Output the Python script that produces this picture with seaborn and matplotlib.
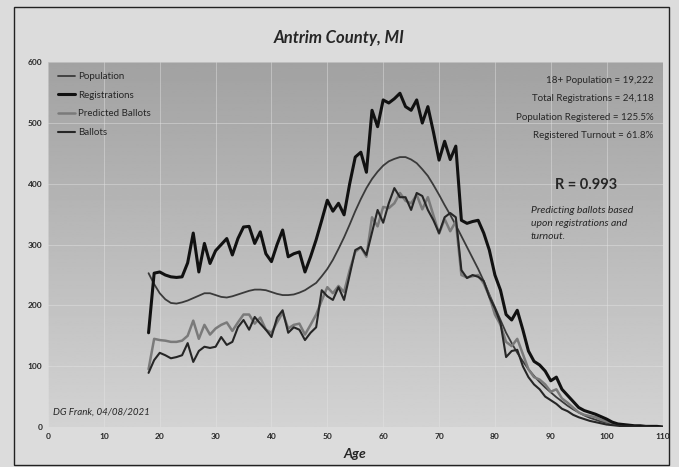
import numpy as np
import pandas as pd
import matplotlib
matplotlib.use("Agg")
import matplotlib.pyplot as plt
import seaborn as sns

# ages 18..110
ages = list(range(18, 111))

population = [253, 235, 220, 210, 204, 203, 205, 208, 212, 216, 220, 220, 217, 214, 213, 215,
              218, 221, 224, 226, 226, 225, 222, 219, 217, 217, 218, 221, 225, 231, 237, 248,
              260, 275, 293, 312, 333, 355, 375, 393, 408, 420, 430, 437, 441, 444, 444, 440,
              434, 424, 413, 398, 382, 365, 349, 332, 314, 296, 278, 260, 240, 218, 197, 176,
              155, 138, 122, 108, 95, 84, 74, 65, 57, 49, 42, 35, 29, 24, 19, 15, 12, 9, 7, 5,
              4, 3, 2, 1, 1, 0.5, 0.3, 0.2, 0]

registrations = [155, 253, 255, 250, 247, 246, 247, 270, 319, 255, 302, 269, 290, 300, 310, 283,
                 310, 329, 330, 302, 321, 285, 272, 300, 324, 280, 285, 288, 255, 280, 308, 340,
                 373, 355, 368, 349, 400, 444, 452, 419, 521, 494, 538, 533, 540, 549, 527, 521,
                 538, 500, 527, 485, 439, 470, 440, 462, 340, 335, 338, 340, 319, 291, 250, 225,
                 185, 176, 192, 160, 125, 108, 102, 92, 76, 82, 62, 52, 42, 32, 27, 24, 21, 17,
                 13, 8, 5, 4, 3, 2, 2, 1, 1, 1, 0]

predicted = [95, 145, 143, 142, 140, 140, 142, 150, 175, 145, 168, 152, 162, 168, 172, 158,
             172, 185, 185, 170, 180, 160, 155, 172, 188, 162, 168, 170, 152, 168, 185, 208,
             230, 220, 232, 222, 258, 288, 296, 280, 345, 330, 362, 360, 368, 385, 372, 368,
             382, 358, 378, 348, 318, 342, 322, 338, 250, 246, 248, 250, 236, 215, 185, 168,
             140, 133, 145, 120, 95, 82, 78, 70, 58, 62, 47, 40, 32, 24, 20, 18, 16, 12,
             9, 6, 4, 3, 2, 1, 1, 1, 1, 0, 0]

ballots = [89, 110, 122, 118, 113, 115, 118, 138, 107, 125, 132, 130, 132, 148, 135, 140,
           164, 176, 160, 181, 170, 160, 148, 180, 192, 155, 164, 160, 143, 155, 164, 225,
           215, 209, 230, 209, 250, 291, 296, 283, 320, 357, 336, 368, 393, 378, 378, 357,
           385, 380, 357, 340, 319, 345, 352, 345, 258, 245, 250, 247, 240, 214, 195, 171,
           115, 125, 127, 100, 82, 70, 62, 50, 44, 38, 30, 26, 20, 16, 13, 10, 8, 6,
           4, 3, 2, 1, 1, 1, 0, 1, 0, 0, 0]

stats_text = ["18+ Population = 19,222",
              "Total Registrations = 24,118",
              "Population Registered = 125.5%",
              "Registered Turnout = 61.8%"]

df = pd.DataFrame({"Age": ages, "Population": population, "Registrations": registrations,
                   "Predicted Ballots": predicted, "Ballots": ballots})

sns.set_theme(style="white")
plt.rcParams['font.family'] = ['Lato', 'DejaVu Sans']

fig = plt.figure(figsize=(6.79, 4.67), dpi=100, facecolor='#dcdcdc')
ax = fig.add_axes([0.0707, 0.0857, 0.905, 0.781])

# gradient plot background, a bit darker at the top
grad = np.linspace(0, 1, 256).reshape(-1, 1)
ax.imshow(grad, extent=[0, 110, 0, 600], aspect='auto', cmap='gray',
          vmin=-3.3, vmax=1.9, zorder=0, origin='upper')
ax.grid(True, color='#e6e6e6', lw=0.5, alpha=0.6, zorder=1)

sns.lineplot(data=df, x="Age", y="Population", color='#3a3a3a', lw=1.3, ax=ax,
             label="Population", zorder=3)
sns.lineplot(data=df, x="Age", y="Registrations", color='#111111', lw=2.2, ax=ax,
             label="Registrations", zorder=4)
sns.lineplot(data=df, x="Age", y="Predicted Ballots", color='#7a7a7a', lw=1.8, ax=ax,
             label="Predicted Ballots", zorder=3)
sns.lineplot(data=df, x="Age", y="Ballots", color='#262626', lw=1.5, ax=ax,
             label="Ballots", zorder=4)

ax.set_xlim(0, 110)
ax.set_ylim(0, 600)
ax.set_xticks(range(0, 111, 10))
ax.set_yticks(range(0, 601, 100))
ax.tick_params(labelsize=6, length=0, pad=4)
for lab in ax.get_xticklabels() + ax.get_yticklabels():
    lab.set_fontweight('bold')
for s in ax.spines.values():
    s.set_visible(False)
ax.set_ylabel("")
ax.set_xlabel("Age", fontsize=10, fontweight='bold', fontstyle='italic', labelpad=6)

fig.text(0.5, 0.918, "Antrim County, MI", ha='center', va='center', fontsize=12,
         fontweight='bold', fontstyle='italic')

leg = ax.legend(loc='upper left', bbox_to_anchor=(0.0, 1.0), frameon=False, fontsize=7,
                handlelength=1.8, handletextpad=0.3, labelspacing=1.0, borderpad=0.5)

for i, t in enumerate(stats_text):
    ax.text(0.985, 0.951 - i * 0.051, t, transform=ax.transAxes, ha='right', va='center',
            fontsize=7)

ax.text(0.875, 0.663, "R = 0.993", transform=ax.transAxes, ha='center', va='center',
        fontsize=10.5, fontweight='bold')
ax.text(0.786, 0.605, "Predicting ballots based\nupon registrations and\nturnout.",
        transform=ax.transAxes, ha='left', va='top', fontsize=7.5, fontstyle='italic',
        linespacing=1.55)
ax.text(0.008, 0.04, "DG Frank, 04/08/2021", transform=ax.transAxes, ha='left',
        va='center', fontsize=7, fontstyle='italic')

# outer chart border
fig.add_artist(plt.Rectangle((0.02, 0.005), 0.965, 0.98, transform=fig.transFigure,
                             fill=False, ec='#222222', lw=1))

fig.savefig("out.png", dpi=100, facecolor=fig.get_facecolor())
